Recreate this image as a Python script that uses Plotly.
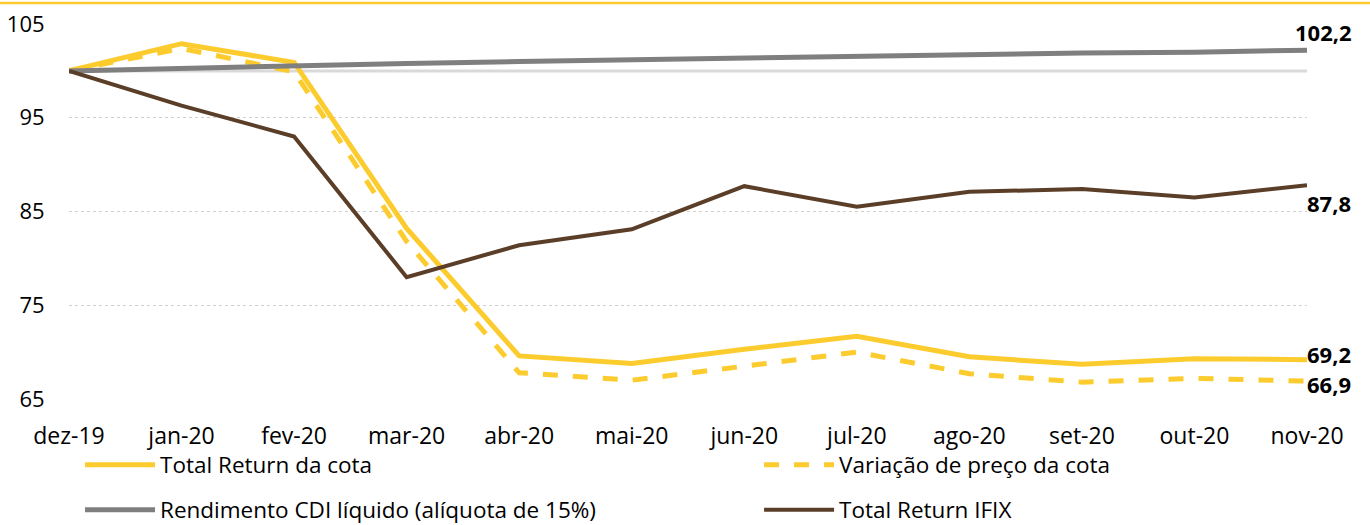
import plotly.graph_objects as go

months = ["dez-19", "jan-20", "fev-20", "mar-20", "abr-20", "mai-20",
          "jun-20", "jul-20", "ago-20", "set-20", "out-20", "nov-20"]
total_return = [100, 102.9, 100.9, 83.2, 69.6, 68.8, 70.3, 71.7, 69.5, 68.7, 69.3, 69.2]
variacao = [100, 102.4, 99.9, 81.8, 67.8, 67.0, 68.5, 70.0, 67.7, 66.8, 67.2, 66.9]
cdi = [100, 100.3, 100.5, 100.8, 101.0, 101.2, 101.4, 101.6, 101.7, 101.9, 102.0, 102.2]
ifix = [100, 96.3, 93.0, 78.0, 81.4, 83.1, 87.7, 85.5, 87.1, 87.4, 86.5, 87.8]
base = [100] * len(months)
y_ticks = [65, 75, 85, 95, 105]

YELLOW = "#FCCC2F"
GRAY = "#7F7F7F"
BROWN = "#5B3E28"
FONT = "Open Sans"

fig = go.Figure()
fig.add_trace(go.Scatter(x=months, y=base, mode="lines", showlegend=False,
                         line=dict(color="#D9D9D9", width=3), hoverinfo="skip"))
fig.add_trace(go.Scatter(x=months, y=total_return, name="Total Return da cota", mode="lines",
                         line=dict(color=YELLOW, width=5), legend="legend"))
fig.add_trace(go.Scatter(x=months, y=variacao, name="Variação de preço da cota", mode="lines",
                         line=dict(color=YELLOW, width=5, dash="dash"), legend="legend2"))
fig.add_trace(go.Scatter(x=months, y=cdi, name="Rendimento CDI líquido (alíquota de 15%)", mode="lines",
                         line=dict(color=GRAY, width=5), legend="legend3"))
fig.add_trace(go.Scatter(x=months, y=ifix, name="Total Return IFIX", mode="lines",
                         line=dict(color=BROWN, width=4), legend="legend4"))

def fmt(v):
    return f"{v:.1f}".replace(".", ",")

labels = [
    (cdi[-1], "center", 16, 18),
    (ifix[-1], "left", -2, -18),
    (total_return[-1], "left", -2, 6),
    (variacao[-1], "left", -2, -3),
]
for val, xa, xs, ys in labels:
    fig.add_annotation(x=months[-1], y=val, text=fmt(val), showarrow=False,
                       xanchor=xa, yanchor="middle", xshift=xs, yshift=ys,
                       font=dict(family=FONT, size=22, color="#000000", weight="bold"))

# top border line
fig.add_shape(type="line", xref="paper", yref="paper", x0=-0.06, x1=1.06, y0=1.056, y1=1.056,
              line=dict(color=YELLOW, width=2.5))

legend_common = dict(orientation="h", xanchor="left", yanchor="middle", itemwidth=70,
                     font=dict(family=FONT, size=22.5, color="#000000"),
                     bgcolor="rgba(0,0,0,0)")

fig.update_layout(
    width=1370, height=525,
    margin=dict(l=69, r=63, t=24, b=126, autoexpand=False),
    paper_bgcolor="white", plot_bgcolor="white",
    font=dict(family=FONT, size=22, color="#000000"),
    legend=dict(x=0.0089, y=-0.176, **legend_common),
    legend2=dict(x=0.5574, y=-0.176, **legend_common),
    legend3=dict(x=0.0089, y=-0.296, **legend_common),
    legend4=dict(x=0.5574, y=-0.296, **legend_common),
    xaxis=dict(range=[0, 11], showgrid=False, zeroline=False, showline=False,
               ticks="outside", ticklen=16, tickcolor="rgba(0,0,0,0)",
               tickfont=dict(family=FONT, size=23, color="#000000")),
    yaxis=dict(range=[65, 105], tickvals=y_ticks, showgrid=True,
               gridcolor="#D0D0D0", griddash="dot", gridwidth=1,
               zeroline=False, showline=False,
               ticks="outside", ticklen=19, tickcolor="rgba(0,0,0,0)",
               tickfont=dict(family=FONT, size=22, color="#000000")),
)

fig.write_html("out.html", config={"displayModeBar": False},
               post_script="document.body.style.margin='0px';document.body.style.overflow='hidden';")
